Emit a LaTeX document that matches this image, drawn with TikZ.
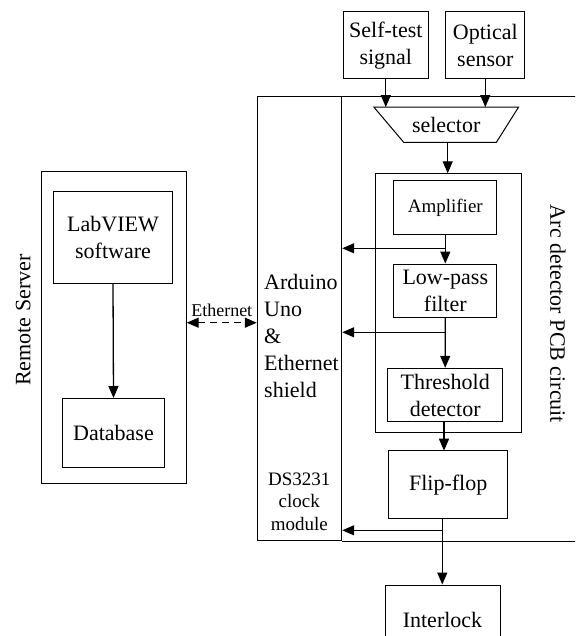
\documentclass[tikz,border=0pt]{standalone}
\usepackage{fontspec}
\setmainfont{Liberation Serif}
\usetikzlibrary{arrows.meta}

\tikzset{
  blk/.style={draw, line width=1pt, inner sep=0pt, align=center,
    font=\fontsize{22}{27}\selectfont},
  frame/.style={draw, line width=1pt, inner sep=0pt},
  sig/.style={line width=1.3pt, -{Triangle[length=12pt,width=10pt]}},
}

\begin{document}
\begin{tikzpicture}[x=1pt, y=-1pt]
    \clip (0,0) rectangle (575,636);
    \useasboundingbox (0,0) rectangle (575,636);
    % remote server side
    \node[frame, minimum width=145, minimum height=312.3] (srv) at (114.2, 327.2) {};
    \node[blk, minimum width=119.4, minimum height=91.6] (lab) at (113, 237.5) {LabVIEW\\software};
    \node[blk, minimum width=101.6, minimum height=68.8] (db) at (113.5, 432.9) {Database};
    \node[rotate=90, font=\fontsize{22}{27}\selectfont] (srvlbl) at (23.3, 320) {Remote Server};
    % arduino and pcb frame
    \node[frame, minimum width=84.4, minimum height=443.8] (ard) at (299.5, 318.6) {};
    \node[anchor=west, align=left, inner sep=0pt, font=\fontsize{22}{27}\selectfont] (ardlbl) at (264, 335.5) {Arduino\\Uno\\\&\\Ethernet\\shield};
    \node[align=center, inner sep=0pt, font=\fontsize{19}{22.5}\selectfont] (rtc) at (299.3, 501.7) {DS3231\\clock\\module};
    \draw[line width=1pt] (ard.north east) -- ++(300,0);
    \draw[line width=1pt] (ard.south east) -- ++(300,0);
    \node[rotate=-90, font=\fontsize{22}{27}\selectfont] (pcblbl) at (558, 314) {Arc detector PCB circuit};
    % inputs
    \node[blk, minimum width=85, minimum height=67.3] (self) at (385.8, 45.3) {Self-test\\signal};
    \node[blk, minimum width=79.3, minimum height=67.3] (opt) at (485.3, 45.3) {Optical\\sensor};
    \node[inner sep=0pt, minimum width=144.3, minimum height=35, font=\fontsize{22}{27}\selectfont] (sel) at (446.2, 124.8) {selector};
    \draw[line width=1pt] (sel.north west) -- (sel.north east) -- ([xshift=-22.3pt]sel.south east)
        -- ([xshift=30pt]sel.south west) -- cycle;
    % signal chain
    \node[frame, minimum width=146.4, minimum height=259.4] (chain) at (448.5, 303) {};
    \node[blk, minimum width=102.7, minimum height=53, font=\fontsize{19}{23}\selectfont] (amp) at (445.3, 207.5) {Amplifier};
    \node[blk, minimum width=102.7, minimum height=53.3] (lpf) at (445.3, 290.7) {Low-pass\\filter};
    \node[blk, minimum width=115, minimum height=53.4] (thr) at (445.2, 395) {Threshold\\detector};
    \node[blk, minimum width=119, minimum height=68.3] (ff) at (448.2, 484.8) {Flip-flop};
    \node[blk, minimum width=115, minimum height=70] (lock) at (442.5, 620) {Interlock};
    \coordinate (tap1) at (445.3, 248.3);
    \coordinate (tap2) at (445.3, 332.3);
    \coordinate (tap3) at (442.3, 530.3);
    \draw[sig] (self.south) -- (self.south |- sel.north);
    \draw[sig] (opt.south) -- (opt.south |- sel.north);
    \draw[sig] (447.7, 142.3) -- (447.7, 173.3);
    \draw[sig] (amp.south) -- (lpf.north);
    \draw[sig] (lpf.south) -- (thr.north);
    \draw[sig] (444, 421.7) -- (444, 450.7);
    \draw[sig] (tap3 |- ff.south) -- (tap3 |- lock.north);
    \draw[sig] (tap1) -- (tap1 -| ard.east);
    \draw[sig] (tap2) -- (tap2 -| ard.east);
    \draw[sig] (tap3) -- (tap3 -| ard.east);
    \draw[sig] (lab.south) -- (db.north);
    % ethernet link
    \coordinate (eth) at (186.7, 322.7);
    \draw[line width=1.3pt, dash pattern=on 7pt off 5pt, {Triangle[length=12pt,width=10pt]}-{Triangle[length=12pt,width=10pt]}]
        (eth) -- (eth -| ard.west) node[midway, above=2pt, font=\fontsize{18}{21}\selectfont] {Ethernet};
\end{tikzpicture}
\end{document}
